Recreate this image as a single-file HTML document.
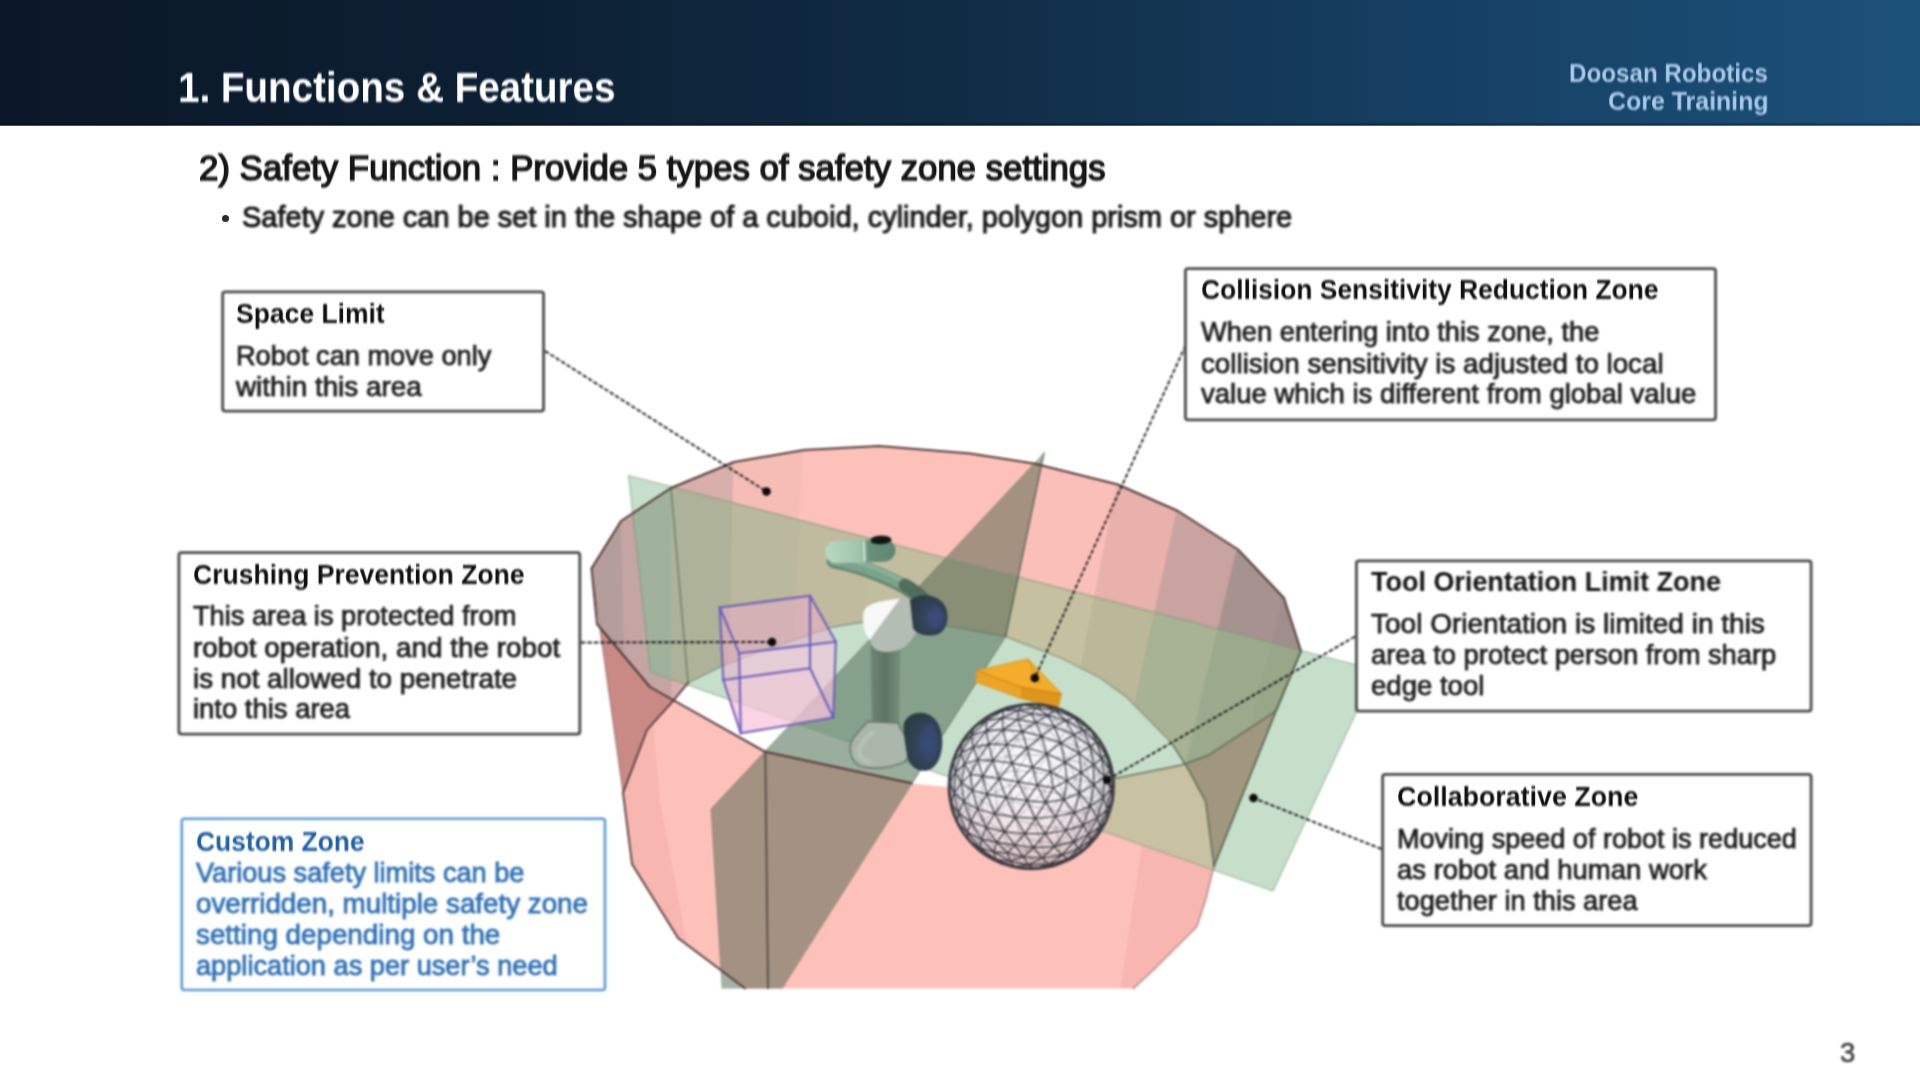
<!DOCTYPE html>
<html lang="en">
<head>
<meta charset="utf-8">
<title>Functions &amp; Features - Safety Function</title>
<style>
html,body{margin:0;padding:0;}
body{width:1920px;height:1080px;overflow:hidden;background:#ffffff;position:relative;
 font-family:"Liberation Sans", sans-serif;}
#hdr{position:absolute;left:0;top:0;width:1920px;height:125px;
 background:linear-gradient(90deg,#0b1828 0%,#0c1f32 25%,#102c45 50%,#164063 75%,#1c517a 100%);}
#hdredge{position:absolute;left:0;top:125px;width:1920px;height:1px;opacity:0.72;
 background:linear-gradient(90deg,#060f1b 0%,#08141f 25%,#0a1c2d 50%,#0f2c45 75%,#143a58 100%);}
#hdrshade{position:absolute;left:0;top:122px;width:1920px;height:3px;
 background:linear-gradient(180deg,rgba(0,0,0,0) 0%,rgba(0,0,0,0.35) 100%);}
.t{position:absolute;white-space:nowrap;transform-origin:0 50%;will-change:transform;filter:blur(0.8px);font-family:"Liberation Sans", sans-serif;}
.bx{position:absolute;background:#ffffff;border-radius:2px;}
#ill{position:absolute;left:0;top:0;width:1920px;height:1080px;filter:blur(0.8px);}
#bul{position:absolute;left:221.5px;top:214.5px;width:7px;height:7px;border-radius:50%;background:#2a2a2a;}
</style>
</head>
<body>
<div id="hdr"></div><div id="hdrshade"></div><div id="hdredge"></div>
<svg id="ill" width="1920" height="1080" viewBox="0 0 1920 1080">
<defs><clipPath id="cOpen"><polygon points="591.5,568.5 621.0,521.0 671.0,488.0 734.0,462.0 804.0,450.0 879.0,446.0 970.0,453.5 1035.0,463.8 1117.8,484.5 1178.0,511.0 1238.0,549.5 1284.0,598.0 1301.0,651.0 1276.0,711.0 1208.0,755.6 1181.5,765.0 1107.0,780.0 1000.0,792.0 911.6,783.2 765.3,751.8 650.0,687.0 597.0,624.0"/></clipPath><clipPath id="cBack"><polygon points="591.5,568.5 621.0,521.0 671.0,488.0 734.0,462.0 804.0,450.0 879.0,446.0 970.0,453.5 1035.0,463.8 1117.8,484.5 1178.0,511.0 1238.0,549.5 1284.0,598.0 1301.0,651.0 1214.0,866.4 1205.6,801.4 1188.7,770.0 1172.0,743.6 1126.0,696.6 1100.0,678.0 1061.0,658.0 1005.6,636.7 946.7,625.6 900.0,620.5 860.0,622.5 833.0,627.0 770.0,648.0 720.0,667.0 688.0,683.0 672.7,701.3 647.0,730.0 623.0,793.0"/></clipPath><clipPath id="cFront"><polygon points="591.5,568.5 597.0,624.0 650.0,687.0 765.3,751.8 911.6,783.2 1000.0,792.0 1107.0,780.0 1181.5,765.0 1208.0,755.6 1276.0,711.0 1214.0,866.4 1205.6,900.0 1196.8,926.8 1153.7,969.8 1133.6,988.5 745.0,988.5 722.0,971.0 678.0,938.0 632.0,864.0 623.0,793.0"/></clipPath><clipPath id="cP1"><polygon points="628.5,475.5 1376.0,670.0 1273.0,891.0 650.5,672.0"/></clipPath><clipPath id="cP2"><polygon points="1044.0,453.0 1005.6,636.7 782.5,988.5 722.0,988.5 711.0,809.0"/></clipPath></defs>
<polygon points="591.5,568.5 597.0,624.0 650.0,687.0 765.3,751.8 911.6,783.2 1000.0,792.0 1107.0,780.0 1181.5,765.0 1208.0,755.6 1276.0,711.0 1214.0,866.4 1205.6,900.0 1196.8,926.8 1153.7,969.8 1133.6,988.5 745.0,988.5 722.0,971.0 678.0,938.0 632.0,864.0 623.0,793.0" fill="#fec1ba" />
<g clip-path="url(#cFront)"><polygon points="597.0,624.0 650.0,687.0 660.0,800.0 690.0,960.0 640.0,990.0 600.0,800.0" fill="rgba(160,60,60,0.07)" /><polygon points="1150.0,790.0 1215.0,760.0 1215.0,990.0 1120.0,990.0" fill="rgba(160,60,60,0.07)" /></g>
<polygon points="591.5,568.5 621.0,521.0 671.0,488.0 734.0,462.0 804.0,450.0 879.0,446.0 970.0,453.5 1035.0,463.8 1117.8,484.5 1178.0,511.0 1238.0,549.5 1284.0,598.0 1301.0,651.0 1214.0,866.4 1205.6,801.4 1188.7,770.0 1172.0,743.6 1126.0,696.6 1100.0,678.0 1061.0,658.0 1005.6,636.7 946.7,625.6 900.0,620.5 860.0,622.5 833.0,627.0 770.0,648.0 720.0,667.0 688.0,683.0 672.7,701.3 647.0,730.0 623.0,793.0" fill="#c98a85" />
<polygon points="591.5,568.5 621.0,521.0 671.0,488.0 734.0,462.0 804.0,450.0 879.0,446.0 970.0,453.5 1035.0,463.8 1117.8,484.5 1178.0,511.0 1238.0,549.5 1284.0,598.0 1301.0,651.0 1276.0,711.0 1208.0,755.6 1181.5,765.0 1107.0,780.0 1000.0,792.0 911.6,783.2 765.3,751.8 650.0,687.0 597.0,624.0" fill="#ffffff" />
<g clip-path="url(#cOpen)"><polygon points="591.5,568.5 621.0,521.0 671.0,488.0 734.0,462.0 804.0,450.0 879.0,446.0 970.0,453.5 1035.0,463.8 1117.8,484.5 1178.0,511.0 1238.0,549.5 1284.0,598.0 1301.0,651.0 1214.0,866.4 1205.6,801.4 1188.7,770.0 1172.0,743.6 1126.0,696.6 1100.0,678.0 1061.0,658.0 1005.6,636.7 946.7,625.6 900.0,620.5 860.0,622.5 833.0,627.0 770.0,648.0 720.0,667.0 688.0,683.0 672.7,701.3 647.0,730.0 623.0,793.0" fill="#fec1ba" /></g>
<g clip-path="url(#cOpen)"><g clip-path="url(#cBack)"><polygon points="560.0,560.0 621.0,515.0 627.1,758.1 560.0,900.0" fill="#b59d9b" stroke="#b59d9b" stroke-width="0.6"/><polygon points="621.0,515.0 671.0,482.0 671.9,717.4 627.1,758.1" fill="#c4a5a3" stroke="#c4a5a3" stroke-width="0.6"/><polygon points="671.0,482.0 734.0,456.0 728.3,685.3 671.9,717.4" fill="#d9afab" stroke="#d9afab" stroke-width="0.6"/><polygon points="734.0,456.0 804.0,444.0 790.9,670.5 728.3,685.3" fill="#f6bdb7" stroke="#f6bdb7" stroke-width="0.6"/><polygon points="804.0,444.0 879.0,440.0 858.0,665.5 790.9,670.5" fill="#fec1ba" stroke="#fec1ba" stroke-width="0.6"/><polygon points="879.0,440.0 970.0,447.5 939.5,674.8 858.0,665.5" fill="#fec1ba" stroke="#fec1ba" stroke-width="0.6"/><polygon points="970.0,447.5 1035.0,457.8 997.7,687.5 939.5,674.8" fill="#fec1ba" stroke="#fec1ba" stroke-width="0.6"/><polygon points="1035.0,457.8 1117.8,478.5 1071.8,713.1 997.7,687.5" fill="#fbbfb9" stroke="#fbbfb9" stroke-width="0.6"/><polygon points="1117.8,478.5 1178.0,505.0 1125.6,745.8 1071.8,713.1" fill="#e8b1ac" stroke="#e8b1ac" stroke-width="0.6"/><polygon points="1178.0,505.0 1238.0,543.5 1179.3,793.3 1125.6,745.8" fill="#c9a39f" stroke="#c9a39f" stroke-width="0.6"/><polygon points="1238.0,543.5 1284.0,592.0 1220.5,853.2 1179.3,793.3" fill="#a6928f" stroke="#a6928f" stroke-width="0.6"/><polygon points="1284.0,592.0 1330.0,640.0 1330.0,900.0 1220.5,853.2" fill="#a08e8c" stroke="#a08e8c" stroke-width="0.6"/></g></g>
<polygon points="628.5,475.5 1376.0,670.0 1273.0,891.0 650.5,672.0" fill="#c6dfca" />
<g clip-path="url(#cFront)"><polygon points="628.5,475.5 1376.0,670.0 1273.0,891.0 650.5,672.0" fill="#c9c1a3" /></g>
<g clip-path="url(#cBack)"><polygon points="628.5,475.5 1376.0,670.0 1273.0,891.0 650.5,672.0" fill="#a0977e" /></g>
<g clip-path="url(#cOpen)"><polygon points="628.5,475.5 1376.0,670.0 1273.0,891.0 650.5,672.0" fill="#c6dfca" /><g clip-path="url(#cBack)"><polygon points="628.5,475.5 1376.0,670.0 1273.0,891.0 650.5,672.0" fill="#c2bd9f" /></g><g clip-path="url(#cBack)"><g clip-path="url(#cP1)"><polygon points="560.0,560.0 621.0,515.0 627.1,758.1 560.0,900.0" fill="#9dab97" stroke="#9dab97" stroke-width="0.6"/><polygon points="621.0,515.0 671.0,482.0 671.9,717.4 627.1,758.1" fill="#a0b29b" stroke="#a0b29b" stroke-width="0.6"/><polygon points="671.0,482.0 734.0,456.0 728.3,685.3 671.9,717.4" fill="#aeb298" stroke="#aeb298" stroke-width="0.6"/><polygon points="734.0,456.0 804.0,444.0 790.9,670.5 728.3,685.3" fill="#bab89d" stroke="#bab89d" stroke-width="0.6"/><polygon points="804.0,444.0 879.0,440.0 858.0,665.5 790.9,670.5" fill="#c0ba9e" stroke="#c0ba9e" stroke-width="0.6"/><polygon points="879.0,440.0 970.0,447.5 939.5,674.8 858.0,665.5" fill="#c2bd9f" stroke="#c2bd9f" stroke-width="0.6"/><polygon points="970.0,447.5 1035.0,457.8 997.7,687.5 939.5,674.8" fill="#c3bfa0" stroke="#c3bfa0" stroke-width="0.6"/><polygon points="1035.0,457.8 1117.8,478.5 1071.8,713.1 997.7,687.5" fill="#c4c0a0" stroke="#c4c0a0" stroke-width="0.6"/><polygon points="1117.8,478.5 1178.0,505.0 1125.6,745.8 1071.8,713.1" fill="#bab898" stroke="#bab898" stroke-width="0.6"/><polygon points="1178.0,505.0 1238.0,543.5 1179.3,793.3 1125.6,745.8" fill="#a8b294" stroke="#a8b294" stroke-width="0.6"/><polygon points="1238.0,543.5 1284.0,592.0 1220.5,853.2 1179.3,793.3" fill="#9baa8c" stroke="#9baa8c" stroke-width="0.6"/><polygon points="1284.0,592.0 1330.0,640.0 1330.0,900.0 1220.5,853.2" fill="#98a68a" stroke="#98a68a" stroke-width="0.6"/></g></g></g>
<polygon points="1044.0,453.0 1005.6,636.7 782.5,988.5 722.0,988.5 711.0,809.0" fill="#a3b2a3" />
<g clip-path="url(#cFront)"><polygon points="1044.0,453.0 1005.6,636.7 782.5,988.5 722.0,988.5 711.0,809.0" fill="#a39181" /></g>
<g clip-path="url(#cOpen)"><polygon points="1044.0,453.0 1005.6,636.7 782.5,988.5 722.0,988.5 711.0,809.0" fill="#9bad9c" /><g clip-path="url(#cP1)"><polygon points="1044.0,453.0 1005.6,636.7 782.5,988.5 722.0,988.5 711.0,809.0" fill="#86a18b" /></g><g clip-path="url(#cBack)"><polygon points="1044.0,453.0 1005.6,636.7 782.5,988.5 722.0,988.5 711.0,809.0" fill="#a49281" /><g clip-path="url(#cP1)"><polygon points="1044.0,453.0 1005.6,636.7 782.5,988.5 722.0,988.5 711.0,809.0" fill="#888f74" /></g></g></g>
<polyline points="628.5,475.5 1376.0,670.0 1273.0,891.0 650.5,672.0 628.5,475.5" fill="none" stroke="rgba(110,140,115,0.55)" stroke-width="1.2" stroke-linejoin="round" stroke-linecap="round" />
<polyline points="671.0,488.0 688.0,683.0" fill="none" stroke="rgba(80,100,80,0.7)" stroke-width="1.4" stroke-linejoin="round" stroke-linecap="round" />
<polyline points="1044.0,453.0 1005.6,636.7" fill="none" stroke="rgba(70,85,70,0.75)" stroke-width="1.5" stroke-linejoin="round" stroke-linecap="round" />
<polyline points="1044.0,453.0 711.0,809.0 722.0,988.5" fill="none" stroke="rgba(90,100,90,0.35)" stroke-width="1.0" stroke-linejoin="round" stroke-linecap="round" />
<polyline points="1005.6,636.7 911.6,783.2" fill="none" stroke="rgba(80,100,85,0.45)" stroke-width="1.0" stroke-linejoin="round" stroke-linecap="round" />
<polyline points="765.3,751.8 768.0,988.5" fill="none" stroke="rgba(60,55,50,0.85)" stroke-width="1.6" stroke-linejoin="round" stroke-linecap="round" />
<polyline points="688.0,683.0 720.0,667.0 770.0,648.0 833.0,627.0 860.0,622.5 900.0,620.5 946.7,625.6 1005.6,636.7 1061.0,658.0 1100.0,678.0 1126.0,696.6 1172.0,743.6" fill="none" stroke="rgba(90,110,90,0.55)" stroke-width="1.3" stroke-linejoin="round" stroke-linecap="round" />
<polyline points="623.0,793.0 647.0,730.0 672.7,701.3 688.0,683.0" fill="none" stroke="#503a38" stroke-width="1.8" stroke-linejoin="round" stroke-linecap="round" />
<polyline points="1172.0,743.6 1188.7,770.0 1205.6,801.4 1214.0,866.4" fill="none" stroke="rgba(85,95,75,0.8)" stroke-width="1.6" stroke-linejoin="round" stroke-linecap="round" />
<polyline points="591.5,568.5 621.0,521.0 671.0,488.0 734.0,462.0 804.0,450.0 879.0,446.0 970.0,453.5 1035.0,463.8 1117.8,484.5 1178.0,511.0 1238.0,549.5 1284.0,598.0 1301.0,651.0" fill="none" stroke="#503a38" stroke-width="2.0" stroke-linejoin="round" stroke-linecap="round" />
<polyline points="591.5,568.5 597.0,624.0 650.0,687.0 765.3,751.8 911.6,783.2" fill="none" stroke="#503a38" stroke-width="2.0" stroke-linejoin="round" stroke-linecap="round" />
<polyline points="1107.0,780.0 1181.5,765.0 1208.0,755.6 1276.0,711.0 1301.0,651.0" fill="none" stroke="rgba(85,100,80,0.85)" stroke-width="1.6" stroke-linejoin="round" stroke-linecap="round" />
<polyline points="591.5,568.5 623.0,793.0" fill="none" stroke="rgba(120,80,80,0.55)" stroke-width="1.2" stroke-linejoin="round" stroke-linecap="round" />
<polyline points="623.0,793.0 632.0,864.0 678.0,938.0 722.0,971.0 745.0,988.5" fill="none" stroke="#503a38" stroke-width="1.8" stroke-linejoin="round" stroke-linecap="round" />
<polyline points="1301.0,651.0 1276.0,711.0 1214.0,866.4" fill="none" stroke="rgba(75,90,70,0.85)" stroke-width="1.7" stroke-linejoin="round" stroke-linecap="round" />
<polyline points="1214.0,866.4 1205.6,900.0 1196.8,926.8 1153.7,969.8 1133.6,988.5" fill="none" stroke="rgba(130,80,80,0.6)" stroke-width="1.4" stroke-linejoin="round" stroke-linecap="round" />
<polygon points="719.7,607.5 810.0,595.8 835.8,641.7 833.3,717.5 740.8,733.3 723.3,680.0" fill="rgba(238,170,205,0.50)" />
<polygon points="739.2,653.3 835.8,641.7 833.3,717.5 740.8,733.3" fill="rgba(255,225,240,0.30)" />
<polygon points="723.3,680.0 810.0,668.3 833.3,717.5 740.8,733.3" fill="rgba(255,200,215,0.25)" />
<polyline points="719.7,607.5 810.0,595.8" fill="none" stroke="rgba(102,88,188,0.92)" stroke-width="2.1" stroke-linejoin="round" stroke-linecap="round" />
<polyline points="810.0,595.8 835.8,641.7" fill="none" stroke="rgba(102,88,188,0.92)" stroke-width="2.1" stroke-linejoin="round" stroke-linecap="round" />
<polyline points="835.8,641.7 739.2,653.3" fill="none" stroke="rgba(102,88,188,0.92)" stroke-width="2.1" stroke-linejoin="round" stroke-linecap="round" />
<polyline points="739.2,653.3 719.7,607.5" fill="none" stroke="rgba(102,88,188,0.92)" stroke-width="2.1" stroke-linejoin="round" stroke-linecap="round" />
<polyline points="723.3,680.0 810.0,668.3" fill="none" stroke="rgba(102,88,188,0.92)" stroke-width="2.1" stroke-linejoin="round" stroke-linecap="round" />
<polyline points="810.0,668.3 833.3,717.5" fill="none" stroke="rgba(102,88,188,0.92)" stroke-width="2.1" stroke-linejoin="round" stroke-linecap="round" />
<polyline points="833.3,717.5 740.8,733.3" fill="none" stroke="rgba(102,88,188,0.92)" stroke-width="2.1" stroke-linejoin="round" stroke-linecap="round" />
<polyline points="740.8,733.3 723.3,680.0" fill="none" stroke="rgba(102,88,188,0.92)" stroke-width="2.1" stroke-linejoin="round" stroke-linecap="round" />
<polyline points="719.7,607.5 723.3,680.0" fill="none" stroke="rgba(102,88,188,0.92)" stroke-width="2.1" stroke-linejoin="round" stroke-linecap="round" />
<polyline points="810.0,595.8 810.0,668.3" fill="none" stroke="rgba(102,88,188,0.92)" stroke-width="2.1" stroke-linejoin="round" stroke-linecap="round" />
<polyline points="835.8,641.7 833.3,717.5" fill="none" stroke="rgba(102,88,188,0.92)" stroke-width="2.1" stroke-linejoin="round" stroke-linecap="round" />
<polyline points="739.2,653.3 740.8,733.3" fill="none" stroke="rgba(102,88,188,0.92)" stroke-width="2.1" stroke-linejoin="round" stroke-linecap="round" />
<defs>
<linearGradient id="gLink" x1="0" x2="1" y1="0" y2="0"><stop offset="0" stop-color="#6e8573"/><stop offset="0.5" stop-color="#5f7564"/><stop offset="1" stop-color="#75907c"/></linearGradient>
<linearGradient id="gTop" x1="0" x2="1" y1="0" y2="0"><stop offset="0" stop-color="#b9d8c2"/><stop offset="0.5" stop-color="#9fc4ab"/><stop offset="0.62" stop-color="#6a9079"/><stop offset="1" stop-color="#5c8770"/></linearGradient>
<radialGradient id="gCap" cx="0.62" cy="0.55" r="0.62"><stop offset="0" stop-color="#3a4b74"/><stop offset="0.45" stop-color="#33445c"/><stop offset="1" stop-color="#2a3c42"/></radialGradient>
</defs>
<path d="M834,561 C850,564 866,569 880,575 C898,582 912,590 926,602" fill="none" stroke="#5f8570" stroke-width="14.5" stroke-linecap="round"/>
<path d="M834,560 C850,563 866,568 880,574 C898,581 912,589 926,601" fill="none" stroke="#7ba28a" stroke-width="11.5" stroke-linecap="round"/>
<path d="M838,557.5 C852,560 868,565 882,571 C894,576 903,581 910,586" fill="none" stroke="#93b9a0" stroke-width="4" stroke-linecap="round" opacity="0.7"/>
<path d="M905,585 C914,590 920,595 927,602" fill="none" stroke="#41594c" stroke-width="13" stroke-linecap="round" opacity="0.75"/>
<g transform="rotate(-2 860 551)">
<ellipse cx="881" cy="541" rx="11" ry="4.8" fill="#16201b"/>
<rect x="825" y="540" width="70.5" height="22.5" rx="11.2" ry="11.2" fill="url(#gTop)"/>
<ellipse cx="881" cy="541.6" rx="10" ry="3.4" fill="#101814"/>
<rect x="863" y="541" width="2.4" height="21" fill="#d6e9dc" opacity="0.85"/>
</g>
<path d="M870.5,640 L900.5,640 L899,732 L872,732 Z" fill="url(#gLink)"/>
<path d="M868,721.5 C862,728 854,735 851.3,742 C849,749 850.5,757 854,761.3 C858,766 864,768 872,768.2 C884,768.5 896,766 904,762.2 C908,759 909.5,754 908.7,748 C908,740 904,733 900.4,728.9 L898.5,723 Z" fill="#a9b6a9" stroke="#61756a" stroke-width="1.4"/>
<path d="M872,733 C866,738 860,744 859,751 C859,757 863,761 870,762" fill="none" stroke="#bcc8bc" stroke-width="5" stroke-linecap="round" opacity="0.6"/>
<path d="M903.5,728 C903,719 911,712.5 921,712.8 C933,713 942,724 942.3,741 C942.5,757 936,770 925,770.8 C915,771.3 908.5,764 907,755 C905.5,746 904,737 903.5,728 Z" fill="url(#gCap)"/>
<ellipse cx="929" cy="742" rx="8.5" ry="19" fill="#3a4b7c" opacity="0.45"/>
<path d="M864,612 C866,603 880,600 900,598 C911,597 917,601 919,612 C920,624 917,634 911,640 C906,648 898,652 886,652 C876,652 871,647 870,640 C864,634 862,624 864,612 Z" fill="#b3bdb3"/>
<path d="M863.5,613 C865,604 878,601 900,598.5 C895,606 880,625 870,640 C864,634 862,624 863.5,613 Z" fill="#f8f8f6"/>
<path d="M910,600 C920,592 940,594 946,608 C950,620 946,632 936,635 C926,637 916,634 913,628 Z" fill="url(#gCap)"/>
<ellipse cx="936" cy="618" rx="8" ry="11" fill="#3c4d80" opacity="0.6"/>
<polygon points="977.0,670.5 1028.0,659.0 1061.5,693.7 1058.0,708.0 1021.0,698.5 976.0,682.0" fill="#e9a023" />
<polygon points="977.0,670.5 1028.0,659.0 1061.5,693.7 1021.0,687.0" fill="#f3ad2b" />
<polygon points="977.0,670.5 1021.0,687.0 1021.0,698.5 976.0,682.0" fill="#eaa526" />
<polygon points="1021.0,687.0 1061.5,693.7 1058.0,708.0 1021.0,698.5" fill="#dd951c" />
<polyline points="977.0,670.5 1021.0,687.0 1061.5,693.7" fill="none" stroke="#c98514" stroke-width="1.0" stroke-linejoin="round" stroke-linecap="round" />
<polyline points="1028.0,659.0 1040.0,684.0" fill="none" stroke="#c98514" stroke-width="0.9" stroke-linejoin="round" stroke-linecap="round" />
<polyline points="977.0,670.5 1028.0,659.0 1061.5,693.7 1058.0,708.0 1021.0,698.5 976.0,682.0 977.0,670.5" fill="none" stroke="#d99a25" stroke-width="1.0" stroke-linejoin="round" stroke-linecap="round" />
<defs>
<radialGradient id="gSph" cx="0.47" cy="0.42" r="0.60"><stop offset="0" stop-color="#fbfbfd"/><stop offset="0.6" stop-color="#ececf1"/><stop offset="0.86" stop-color="#cfcfd6"/><stop offset="1" stop-color="#a2a3aa"/></radialGradient>
<linearGradient id="gSphPink" x1="0" x2="0" y1="0" y2="1"><stop offset="0.5" stop-color="#f5c0bc" stop-opacity="0"/><stop offset="1" stop-color="#f5c0bc" stop-opacity="0.5"/></linearGradient>
</defs>
<circle cx="1031.3" cy="786.5" r="83.0" fill="url(#gSph)"/>
<circle cx="1031.3" cy="786.5" r="83.0" fill="url(#gSphPink)"/>
<path d="M978.9,722.9L989.7,714.8M978.9,722.9L973.8,727.1M971.9,732.6L978.9,722.9M965.5,736.3L971.9,732.6M965.5,736.3L978.9,722.9M1039.3,716.2L1055.2,720.2M1039.3,716.2L1052.4,712.0M1055.2,720.2L1052.4,712.0M1052.4,712.0L1034.3,708.1M1034.3,708.1L1048.1,706.1M1052.4,712.0L1048.1,706.1M1048.1,706.1L1028.4,703.9M1048.1,706.1L1042.5,704.6M1020.3,715.0L1039.3,716.2M1020.3,715.0L1034.3,708.1M1034.3,708.1L1039.3,716.2M1034.3,708.1L1013.6,708.6M1013.6,708.6L1028.4,703.9M1028.4,703.9L1034.3,708.1M1028.4,703.9L1007.7,706.9M1000.9,717.8L1020.3,715.0M1000.9,717.8L1013.6,708.6M1013.6,708.6L1020.3,715.0M1013.6,708.6L994.1,714.1M994.1,714.1L1007.7,706.9M1007.7,706.9L1013.6,708.6M984.2,724.4L1000.9,717.8M984.2,724.4L994.1,714.1M994.1,714.1L1000.9,717.8M994.1,714.1L978.9,722.9M989.7,714.8L994.1,714.1M971.9,732.6L984.2,724.4M978.9,722.9L984.2,724.4M998.9,773.4L1009.4,785.1M998.9,773.4L1017.2,770.6M1009.4,785.1L1017.2,770.6M1017.2,770.6L1006.9,756.5M1006.9,756.5L1027.1,754.6M1017.2,770.6L1027.1,754.6M1027.1,754.6L1017.5,739.4M1017.5,739.4L1037.8,739.4M1027.1,754.6L1037.8,739.4M1037.8,739.4L1029.0,725.3M1029.0,725.3L1047.6,727.8M1037.8,739.4L1047.6,727.8M1047.6,727.8L1039.3,716.2M1047.6,727.8L1055.2,720.2M988.2,760.3L998.9,773.4M988.2,760.3L1006.9,756.5M1006.9,756.5L998.9,773.4M1006.9,756.5L996.8,742.5M996.8,742.5L1017.5,739.4M1017.5,739.4L1006.9,756.5M1017.5,739.4L1008.2,726.4M1008.2,726.4L1029.0,725.3M1029.0,725.3L1017.5,739.4M1029.0,725.3L1020.3,715.0M1039.3,716.2L1029.0,725.3M979.5,748.1L988.2,760.3M979.5,748.1L996.8,742.5M996.8,742.5L988.2,760.3M996.8,742.5L988.9,731.3M988.9,731.3L1008.2,726.4M1008.2,726.4L996.8,742.5M1008.2,726.4L1000.9,717.8M1020.3,715.0L1008.2,726.4M974.1,738.7L979.5,748.1M974.1,738.7L988.9,731.3M988.9,731.3L979.5,748.1M988.9,731.3L984.2,724.4M1000.9,717.8L988.9,731.3M971.9,732.6L974.1,738.7M984.2,724.4L974.1,738.7M952.7,802.9L957.1,818.6M952.7,802.9L961.0,814.5M957.1,818.6L961.0,814.5M961.0,814.5L958.1,796.3M958.1,796.3L969.1,808.3M961.0,814.5L969.1,808.3M969.1,808.3L968.7,788.3M968.7,788.3L981.3,800.5M969.1,808.3L981.3,800.5M981.3,800.5L983.3,780.2M983.3,780.2L995.6,792.3M981.3,800.5L995.6,792.3M995.6,792.3L998.9,773.4M995.6,792.3L1009.4,785.1M951.6,783.8L952.7,802.9M951.6,783.8L958.1,796.3M958.1,796.3L952.7,802.9M958.1,796.3L959.3,775.3M959.3,775.3L968.7,788.3M968.7,788.3L958.1,796.3M968.7,788.3L972.3,766.9M972.3,766.9L983.3,780.2M983.3,780.2L968.7,788.3M983.3,780.2L988.2,760.3M998.9,773.4L983.3,780.2M955.1,763.7L951.6,783.8M955.1,763.7L959.3,775.3M959.3,775.3L951.6,783.8M959.3,775.3L965.2,755.0M965.2,755.0L972.3,766.9M972.3,766.9L959.3,775.3M972.3,766.9L979.5,748.1M988.2,760.3L972.3,766.9M962.5,746.0L955.1,763.7M962.5,746.0L965.2,755.0M965.2,755.0L955.1,763.7M965.2,755.0L974.1,738.7M979.5,748.1L965.2,755.0M971.9,732.6L962.5,746.0M974.1,738.7L962.5,746.0M948.8,793.8L952.5,812.1M952.5,812.1L952.7,802.9M952.5,812.1L957.1,818.6M949.7,772.6L948.8,793.8M948.8,793.8L951.6,783.8M952.7,802.9L948.8,793.8M955.9,752.4L949.7,772.6M949.7,772.6L955.1,763.7M951.6,783.8L949.7,772.6M965.5,736.3L955.9,752.4M955.9,752.4L962.5,746.0M955.1,763.7L955.9,752.4M962.5,746.0L965.5,736.3M1094.4,733.1L1102.0,743.6M1082.7,725.1L1094.4,733.1M1082.7,725.1L1080.1,719.4M1080.1,719.4L1094.4,733.1M1080.1,719.4L1066.5,713.4M1066.5,713.4L1061.7,709.3M1061.7,709.3L1048.1,706.1M1068.8,721.0L1082.7,725.1M1068.8,721.0L1066.5,713.4M1066.5,713.4L1082.7,725.1M1066.5,713.4L1052.4,712.0M1048.1,706.1L1066.5,713.4M1055.2,720.2L1068.8,721.0M1052.4,712.0L1068.8,721.0M960.6,829.4L952.5,812.1M960.6,829.4L957.1,818.6M1014.9,857.8L1031.3,859.3M1014.9,857.8L1026.5,850.4M1031.3,859.3L1026.5,850.4M1026.5,850.4L1008.2,846.5M1008.2,846.5L1021.1,836.8M1026.5,850.4L1021.1,836.8M1021.1,836.8L1001.9,830.0M1001.9,830.0L1015.9,819.5M1021.1,836.8L1015.9,819.5M1015.9,819.5L997.6,810.7M997.6,810.7L1012.0,801.3M1015.9,819.5L1012.0,801.3M1012.0,801.3L995.6,792.3M1012.0,801.3L1009.4,785.1M996.7,852.5L1014.9,857.8M996.7,852.5L1008.2,846.5M1008.2,846.5L1014.9,857.8M1008.2,846.5L988.9,838.3M988.9,838.3L1001.9,830.0M1001.9,830.0L1008.2,846.5M1001.9,830.0L983.4,819.9M983.4,819.9L997.6,810.7M997.6,810.7L1001.9,830.0M997.6,810.7L981.3,800.5M995.6,792.3L997.6,810.7M979.3,842.9L996.7,852.5M979.3,842.9L988.9,838.3M988.9,838.3L996.7,852.5M988.9,838.3L972.4,826.8M972.4,826.8L983.4,819.9M983.4,819.9L988.9,838.3M983.4,819.9L969.1,808.3M981.3,800.5L983.4,819.9M965.8,830.8L979.3,842.9M965.8,830.8L972.4,826.8M972.4,826.8L979.3,842.9M972.4,826.8L961.0,814.5M969.1,808.3L972.4,826.8M957.1,818.6L965.8,830.8M961.0,814.5L965.8,830.8M1080.0,796.8L1092.0,798.6M1080.0,796.8L1090.1,782.5M1092.0,798.6L1090.1,782.5M1090.1,782.5L1075.6,778.9M1075.6,778.9L1084.9,764.0M1090.1,782.5L1084.9,764.0M1084.9,764.0L1067.9,759.2M1067.9,759.2L1076.4,745.7M1084.9,764.0L1076.4,745.7M1076.4,745.7L1057.9,741.2M1057.9,741.2L1065.8,730.7M1076.4,745.7L1065.8,730.7M1065.8,730.7L1047.6,727.8M1065.8,730.7L1055.2,720.2M1063.5,794.3L1080.0,796.8M1063.5,794.3L1075.6,778.9M1075.6,778.9L1080.0,796.8M1075.6,778.9L1056.5,775.3M1056.5,775.3L1067.9,759.2M1067.9,759.2L1075.6,778.9M1067.9,759.2L1047.4,755.8M1047.4,755.8L1057.9,741.2M1057.9,741.2L1067.9,759.2M1057.9,741.2L1037.8,739.4M1047.6,727.8L1057.9,741.2M1044.3,791.1L1063.5,794.3M1044.3,791.1L1056.5,775.3M1056.5,775.3L1063.5,794.3M1056.5,775.3L1035.8,772.4M1035.8,772.4L1047.4,755.8M1047.4,755.8L1056.5,775.3M1047.4,755.8L1027.1,754.6M1037.8,739.4L1047.4,755.8M1025.3,787.9L1044.3,791.1M1025.3,787.9L1035.8,772.4M1035.8,772.4L1044.3,791.1M1035.8,772.4L1017.2,770.6M1027.1,754.6L1035.8,772.4M1009.4,785.1L1025.3,787.9M1017.2,770.6L1025.3,787.9M1044.4,862.6L1031.3,859.3M1044.4,862.6L1026.0,865.3M1031.3,859.3L1026.0,865.3M1026.0,865.3L1039.8,868.0M1039.8,868.0L1020.1,868.4M1026.0,865.3L1020.1,868.4M1020.1,868.4L1034.2,869.1M1059.0,862.6L1044.4,862.6M1059.0,862.6L1039.8,868.0M1039.8,868.0L1044.4,862.6M1039.8,868.0L1054.9,866.1M1034.2,869.1L1039.8,868.0M1072.9,858.2L1059.0,862.6M1072.9,858.2L1054.9,866.1M1054.9,866.1L1059.0,862.6M1097.9,809.0L1092.0,798.6M1097.9,809.0L1084.8,813.2M1092.0,798.6L1084.8,813.2M1084.8,813.2L1089.4,825.7M1089.4,825.7L1073.8,828.9M1084.8,813.2L1073.8,828.9M1073.8,828.9L1076.3,842.2M1076.3,842.2L1059.6,843.1M1073.8,828.9L1059.6,843.1M1059.6,843.1L1060.2,855.0M1060.2,855.0L1044.7,853.4M1059.6,843.1L1044.7,853.4M1044.7,853.4L1044.4,862.6M1044.7,853.4L1031.3,859.3M1101.5,820.1L1097.9,809.0M1101.5,820.1L1089.4,825.7M1089.4,825.7L1097.9,809.0M1089.4,825.7L1091.1,837.4M1091.1,837.4L1076.3,842.2M1076.3,842.2L1089.4,825.7M1076.3,842.2L1076.0,852.6M1076.0,852.6L1060.2,855.0M1060.2,855.0L1076.3,842.2M1060.2,855.0L1059.0,862.6M1044.4,862.6L1060.2,855.0M1101.2,829.9L1101.5,820.1M1101.2,829.9L1091.1,837.4M1091.1,837.4L1101.5,820.1M1091.1,837.4L1088.8,845.9M1088.8,845.9L1076.0,852.6M1076.0,852.6L1091.1,837.4M1076.0,852.6L1072.9,858.2M1059.0,862.6L1076.0,852.6M1097.1,836.7L1101.2,829.9M1097.1,836.7L1088.8,845.9M1088.8,845.9L1101.2,829.9M1072.9,858.2L1088.8,845.9M1113.8,779.2L1111.6,769.7M1110.1,760.9L1111.6,769.7M1111.6,769.7L1113.2,790.0M1113.2,790.0L1108.4,780.0M1111.6,769.7L1108.4,780.0M1108.4,780.0L1107.3,800.5M1107.3,800.5L1101.2,790.1M1108.4,780.0L1101.2,790.1M1101.2,790.1L1097.9,809.0M1101.2,790.1L1092.0,798.6M1112.9,800.4L1113.2,790.0M1113.2,790.0L1113.8,779.2M1113.2,790.0L1109.5,811.3M1109.5,811.3L1107.3,800.5M1107.3,800.5L1113.2,790.0M1107.3,800.5L1101.5,820.1M1097.9,809.0L1107.3,800.5M1106.7,820.6L1109.5,811.3M1109.5,811.3L1112.9,800.4M1109.5,811.3L1101.2,829.9M1101.5,820.1L1109.5,811.3M1101.2,829.9L1106.7,820.6M965.8,830.8L960.6,829.4M960.6,829.4L971.9,843.1M971.9,843.1L968.2,839.9M979.3,842.9L971.9,843.1M971.9,843.1L965.8,830.8M971.9,843.1L988.4,855.2M988.4,855.2L982.5,853.6M982.5,853.6L971.9,843.1M982.5,853.6L1000.9,863.7M996.7,852.5L988.4,855.2M988.4,855.2L979.3,842.9M988.4,855.2L1007.7,862.8M1007.7,862.8L1000.9,863.7M1000.9,863.7L988.4,855.2M1000.9,863.7L1020.1,868.4M1014.9,857.8L1007.7,862.8M1007.7,862.8L996.7,852.5M1007.7,862.8L1026.0,865.3M1020.1,868.4L1007.7,862.8M1026.0,865.3L1014.9,857.8M1025.3,787.9L1012.0,801.3M1012.0,801.3L1030.1,805.9M1030.1,805.9L1015.9,819.5M1015.9,819.5L1035.5,825.0M1035.5,825.0L1021.1,836.8M1021.1,836.8L1040.6,841.7M1040.6,841.7L1026.5,850.4M1026.5,850.4L1044.7,853.4M1044.3,791.1L1030.1,805.9M1030.1,805.9L1025.3,787.9M1030.1,805.9L1050.6,809.9M1050.6,809.9L1035.5,825.0M1035.5,825.0L1030.1,805.9M1035.5,825.0L1056.0,828.4M1056.0,828.4L1040.6,841.7M1040.6,841.7L1035.5,825.0M1040.6,841.7L1059.6,843.1M1044.7,853.4L1040.6,841.7M1063.5,794.3L1050.6,809.9M1050.6,809.9L1044.3,791.1M1050.6,809.9L1069.8,812.4M1069.8,812.4L1056.0,828.4M1056.0,828.4L1050.6,809.9M1056.0,828.4L1073.8,828.9M1059.6,843.1L1056.0,828.4M1080.0,796.8L1069.8,812.4M1069.8,812.4L1063.5,794.3M1069.8,812.4L1084.8,813.2M1073.8,828.9L1069.8,812.4M1084.8,813.2L1080.0,796.8M1068.8,721.0L1065.8,730.7M1065.8,730.7L1081.1,733.8M1081.1,733.8L1076.4,745.7M1076.4,745.7L1091.9,751.6M1091.9,751.6L1084.9,764.0M1084.9,764.0L1098.7,771.5M1098.7,771.5L1090.1,782.5M1090.1,782.5L1101.2,790.1M1082.7,725.1L1081.1,733.8M1081.1,733.8L1068.8,721.0M1081.1,733.8L1095.2,740.6M1095.2,740.6L1091.9,751.6M1091.9,751.6L1081.1,733.8M1091.9,751.6L1104.4,760.1M1104.4,760.1L1098.7,771.5M1098.7,771.5L1091.9,751.6M1098.7,771.5L1108.4,780.0M1101.2,790.1L1098.7,771.5M1094.4,733.1L1095.2,740.6M1095.2,740.6L1082.7,725.1M1095.2,740.6L1105.3,750.3M1105.3,750.3L1104.4,760.1M1104.4,760.1L1095.2,740.6M1104.4,760.1L1111.6,769.7M1108.4,780.0L1104.4,760.1M1102.0,743.6L1105.3,750.3M1105.3,750.3L1094.4,733.1M1105.3,750.3L1110.1,760.9M1111.6,769.7L1105.3,750.3" fill="none" stroke="#4a4a54" stroke-width="0.9" opacity="0.42"/>
<path d="M1018.2,710.4L1031.3,713.7M1018.2,710.4L1017.9,719.6M1031.3,713.7L1017.9,719.6M1017.9,719.6L1002.4,718.0M1002.4,718.0L1003.0,729.9M1017.9,719.6L1003.0,729.9M1003.0,729.9L986.3,730.8M986.3,730.8L988.8,744.1M1003.0,729.9L988.8,744.1M988.8,744.1L973.2,747.3M973.2,747.3L977.8,759.8M988.8,744.1L977.8,759.8M977.8,759.8L964.7,764.0M970.6,774.4L964.7,764.0M977.8,759.8L970.6,774.4M1003.6,710.4L1018.2,710.4M1003.6,710.4L1002.4,718.0M1002.4,718.0L1018.2,710.4M1002.4,718.0L986.6,720.4M986.6,720.4L986.3,730.8M986.3,730.8L1002.4,718.0M986.3,730.8L971.5,735.6M971.5,735.6L973.2,747.3M973.2,747.3L986.3,730.8M973.2,747.3L961.1,752.9M964.7,764.0L961.1,752.9M964.7,764.0L973.2,747.3M989.7,714.8L1003.6,710.4M989.7,714.8L986.6,720.4M986.6,720.4L1003.6,710.4M986.6,720.4L973.8,727.1M973.8,727.1L971.5,735.6M971.5,735.6L986.6,720.4M971.5,735.6L961.4,743.1M961.1,752.9L961.4,743.1M961.1,752.9L971.5,735.6M973.8,727.1L989.7,714.8M973.8,727.1L965.5,736.3M961.4,743.1L965.5,736.3M961.4,743.1L973.8,727.1M1028.4,703.9L1042.5,704.6M1042.5,704.6L1022.8,705.0M1022.8,705.0L1036.6,707.7M1042.5,704.6L1036.6,707.7M1036.6,707.7L1018.2,710.4M1036.6,707.7L1031.3,713.7M1007.7,706.9L1022.8,705.0M1022.8,705.0L1028.4,703.9M1022.8,705.0L1003.6,710.4M1018.2,710.4L1022.8,705.0M1007.7,706.9L989.7,714.8M1003.6,710.4L1007.7,706.9M964.7,764.0L961.4,782.9M970.6,774.4L961.4,782.9M961.4,782.9L955.3,772.5M955.3,772.5L954.2,793.0M961.4,782.9L954.2,793.0M954.2,793.0L949.4,783.0M949.4,783.0L951.0,803.3M954.2,793.0L951.0,803.3M951.0,803.3L948.8,793.8M951.0,803.3L952.5,812.1M961.1,752.9L955.3,772.5M955.3,772.5L964.7,764.0M955.3,772.5L953.1,761.7M953.1,761.7L949.4,783.0M949.4,783.0L955.3,772.5M949.4,783.0L949.7,772.6M948.8,793.8L949.4,783.0M961.4,743.1L953.1,761.7M953.1,761.7L961.1,752.9M953.1,761.7L955.9,752.4M949.7,772.6L953.1,761.7M955.9,752.4L961.4,743.1M1102.0,743.6L1105.5,754.4M1102.0,743.6L1096.8,742.2M1105.5,754.4L1096.8,742.2M1096.8,742.2L1090.7,729.9M1090.7,729.9L1083.3,730.1M1096.8,742.2L1083.3,730.1M1083.3,730.1L1074.2,717.8M1074.2,717.8L1065.9,720.5M1083.3,730.1L1065.9,720.5M1065.9,720.5L1054.9,710.2M1054.9,710.2L1047.7,715.2M1065.9,720.5L1047.7,715.2M1047.7,715.2L1036.6,707.7M1047.7,715.2L1031.3,713.7M1094.4,733.1L1090.7,729.9M1090.7,729.9L1102.0,743.6M1090.7,729.9L1080.1,719.4M1080.1,719.4L1074.2,717.8M1074.2,717.8L1090.7,729.9M1074.2,717.8L1061.7,709.3M1061.7,709.3L1054.9,710.2M1054.9,710.2L1074.2,717.8M1054.9,710.2L1042.5,704.6M1036.6,707.7L1054.9,710.2M1061.7,709.3L1080.1,719.4M1042.5,704.6L1061.7,709.3M1050.6,771.7L1053.2,787.9M1050.6,771.7L1037.3,785.1M1053.2,787.9L1037.3,785.1M1037.3,785.1L1032.5,767.1M1032.5,767.1L1018.3,781.9M1037.3,785.1L1018.3,781.9M1018.3,781.9L1012.0,763.1M1012.0,763.1L999.1,778.7M1018.3,781.9L999.1,778.7M999.1,778.7L992.8,760.6M992.8,760.6L982.6,776.2M999.1,778.7L982.6,776.2M982.6,776.2L977.8,759.8M982.6,776.2L970.6,774.4M1046.7,753.5L1050.6,771.7M1046.7,753.5L1032.5,767.1M1032.5,767.1L1050.6,771.7M1032.5,767.1L1027.1,748.0M1027.1,748.0L1012.0,763.1M1012.0,763.1L1032.5,767.1M1012.0,763.1L1006.6,744.6M1006.6,744.6L992.8,760.6M992.8,760.6L1012.0,763.1M992.8,760.6L988.8,744.1M977.8,759.8L992.8,760.6M1041.5,736.2L1046.7,753.5M1041.5,736.2L1027.1,748.0M1027.1,748.0L1046.7,753.5M1027.1,748.0L1022.0,731.3M1022.0,731.3L1006.6,744.6M1006.6,744.6L1027.1,748.0M1006.6,744.6L1003.0,729.9M988.8,744.1L1006.6,744.6M1036.1,722.6L1041.5,736.2M1036.1,722.6L1022.0,731.3M1022.0,731.3L1041.5,736.2M1022.0,731.3L1017.9,719.6M1003.0,729.9L1022.0,731.3M1031.3,713.7L1036.1,722.6M1017.9,719.6L1036.1,722.6M996.8,842.3L1007.4,852.8M996.8,842.3L993.8,852.0M1007.4,852.8L993.8,852.0M993.8,852.0L981.5,839.2M981.5,839.2L979.9,847.9M993.8,852.0L979.9,847.9M979.9,847.9L967.4,832.4M967.4,832.4L968.2,839.9M979.9,847.9L968.2,839.9M968.2,839.9L957.3,822.7M957.3,822.7L960.6,829.4M968.2,839.9L960.6,829.4M986.2,827.3L996.8,842.3M986.2,827.3L981.5,839.2M981.5,839.2L996.8,842.3M981.5,839.2L970.7,821.4M970.7,821.4L967.4,832.4M967.4,832.4L981.5,839.2M967.4,832.4L958.2,812.9M958.2,812.9L957.3,822.7M957.3,822.7L967.4,832.4M957.3,822.7L951.0,803.3M952.5,812.1L957.3,822.7M977.7,809.0L986.2,827.3M977.7,809.0L970.7,821.4M970.7,821.4L986.2,827.3M970.7,821.4L963.9,801.5M963.9,801.5L958.2,812.9M958.2,812.9L970.7,821.4M958.2,812.9L954.2,793.0M951.0,803.3L958.2,812.9M972.5,790.5L977.7,809.0M972.5,790.5L963.9,801.5M963.9,801.5L977.7,809.0M963.9,801.5L961.4,782.9M954.2,793.0L963.9,801.5M970.6,774.4L972.5,790.5M961.4,782.9L972.5,790.5M1063.7,799.6L1053.2,787.9M1063.7,799.6L1067.0,780.7M1053.2,787.9L1067.0,780.7M1067.0,780.7L1079.3,792.8M1079.3,792.8L1081.3,772.5M1067.0,780.7L1081.3,772.5M1081.3,772.5L1093.9,784.7M1093.9,784.7L1093.5,764.7M1081.3,772.5L1093.5,764.7M1093.5,764.7L1104.5,776.7M1104.5,776.7L1101.6,758.5M1093.5,764.7L1101.6,758.5M1101.6,758.5L1109.9,770.1M1105.5,754.4L1109.9,770.1M1101.6,758.5L1105.5,754.4M1074.4,812.7L1063.7,799.6M1074.4,812.7L1079.3,792.8M1079.3,792.8L1063.7,799.6M1079.3,792.8L1090.3,806.1M1090.3,806.1L1093.9,784.7M1093.9,784.7L1079.3,792.8M1093.9,784.7L1103.3,797.7M1103.3,797.7L1104.5,776.7M1104.5,776.7L1093.9,784.7M1104.5,776.7L1111.0,789.2M1109.9,770.1L1111.0,789.2M1109.9,770.1L1104.5,776.7M1083.1,824.9L1074.4,812.7M1083.1,824.9L1090.3,806.1M1090.3,806.1L1074.4,812.7M1090.3,806.1L1097.4,818.0M1097.4,818.0L1103.3,797.7M1103.3,797.7L1090.3,806.1M1103.3,797.7L1107.5,809.3M1111.0,789.2L1107.5,809.3M1111.0,789.2L1103.3,797.7M1088.5,834.3L1083.1,824.9M1088.5,834.3L1097.4,818.0M1097.4,818.0L1083.1,824.9M1097.4,818.0L1100.1,827.0M1107.5,809.3L1100.1,827.0M1107.5,809.3L1097.4,818.0M1090.7,840.4L1088.5,834.3M1100.1,827.0L1090.7,840.4M1100.1,827.0L1088.5,834.3M1023.3,856.8L1007.4,852.8M1023.3,856.8L1015.0,845.2M1007.4,852.8L1015.0,845.2M1015.0,845.2L1033.6,847.7M1033.6,847.7L1024.8,833.6M1015.0,845.2L1024.8,833.6M1024.8,833.6L1045.1,833.6M1045.1,833.6L1035.5,818.4M1024.8,833.6L1035.5,818.4M1035.5,818.4L1055.7,816.5M1055.7,816.5L1045.4,802.4M1035.5,818.4L1045.4,802.4M1045.4,802.4L1063.7,799.6M1045.4,802.4L1053.2,787.9M1042.3,858.0L1023.3,856.8M1042.3,858.0L1033.6,847.7M1033.6,847.7L1023.3,856.8M1033.6,847.7L1054.4,846.6M1054.4,846.6L1045.1,833.6M1045.1,833.6L1033.6,847.7M1045.1,833.6L1065.8,830.5M1065.8,830.5L1055.7,816.5M1055.7,816.5L1045.1,833.6M1055.7,816.5L1074.4,812.7M1063.7,799.6L1055.7,816.5M1061.7,855.2L1042.3,858.0M1061.7,855.2L1054.4,846.6M1054.4,846.6L1042.3,858.0M1054.4,846.6L1073.7,841.7M1073.7,841.7L1065.8,830.5M1065.8,830.5L1054.4,846.6M1065.8,830.5L1083.1,824.9M1074.4,812.7L1065.8,830.5M1078.4,848.6L1061.7,855.2M1078.4,848.6L1073.7,841.7M1073.7,841.7L1061.7,855.2M1073.7,841.7L1088.5,834.3M1083.1,824.9L1073.7,841.7M1090.7,840.4L1078.4,848.6M1088.5,834.3L1078.4,848.6M1034.2,869.1L1014.5,866.9M1020.1,868.4L1014.5,866.9M1014.5,866.9L1028.3,864.9M1028.3,864.9L1010.2,861.0M1014.5,866.9L1010.2,861.0M1010.2,861.0L1023.3,856.8M1010.2,861.0L1007.4,852.8M1054.9,866.1L1034.2,869.1M1034.2,869.1L1049.0,864.4M1049.0,864.4L1028.3,864.9M1028.3,864.9L1034.2,869.1M1028.3,864.9L1042.3,858.0M1023.3,856.8L1028.3,864.9M1054.9,866.1L1068.5,858.9M1068.5,858.9L1049.0,864.4M1049.0,864.4L1054.9,866.1M1049.0,864.4L1061.7,855.2M1042.3,858.0L1049.0,864.4M1083.7,850.1L1072.9,858.2M1083.7,850.1L1068.5,858.9M1068.5,858.9L1072.9,858.2M1068.5,858.9L1078.4,848.6M1061.7,855.2L1068.5,858.9M1090.7,840.4L1083.7,850.1M1078.4,848.6L1083.7,850.1M1088.8,845.9L1083.7,850.1M1090.7,840.4L1097.1,836.7M1083.7,850.1L1097.1,836.7M1109.9,770.1L1110.1,760.9M1105.5,754.4L1110.1,760.9M1110.1,760.9L1113.8,779.2M1111.0,789.2L1113.8,779.2M1113.8,779.2L1109.9,770.1M1113.8,779.2L1112.9,800.4M1107.5,809.3L1112.9,800.4M1112.9,800.4L1111.0,789.2M1112.9,800.4L1106.7,820.6M1100.1,827.0L1106.7,820.6M1106.7,820.6L1107.5,809.3M1106.7,820.6L1097.1,836.7M1097.1,836.7L1100.1,827.0M1036.1,722.6L1047.7,715.2M1047.7,715.2L1054.4,726.5M1054.4,726.5L1065.9,720.5M1065.9,720.5L1073.7,734.7M1073.7,734.7L1083.3,730.1M1083.3,730.1L1090.2,746.2M1090.2,746.2L1096.8,742.2M1096.8,742.2L1101.6,758.5M1041.5,736.2L1054.4,726.5M1054.4,726.5L1036.1,722.6M1054.4,726.5L1060.7,743.0M1060.7,743.0L1073.7,734.7M1073.7,734.7L1054.4,726.5M1073.7,734.7L1079.2,753.1M1079.2,753.1L1090.2,746.2M1090.2,746.2L1073.7,734.7M1090.2,746.2L1093.5,764.7M1101.6,758.5L1090.2,746.2M1046.7,753.5L1060.7,743.0M1060.7,743.0L1041.5,736.2M1060.7,743.0L1065.0,762.3M1065.0,762.3L1079.2,753.1M1079.2,753.1L1060.7,743.0M1079.2,753.1L1081.3,772.5M1093.5,764.7L1079.2,753.1M1050.6,771.7L1065.0,762.3M1065.0,762.3L1046.7,753.5M1065.0,762.3L1067.0,780.7M1081.3,772.5L1065.0,762.3M1067.0,780.7L1050.6,771.7M972.5,790.5L982.6,776.2M982.6,776.2L987.0,794.1M987.0,794.1L999.1,778.7M999.1,778.7L1006.1,797.7M1006.1,797.7L1018.3,781.9M1018.3,781.9L1026.8,800.6M1026.8,800.6L1037.3,785.1M1037.3,785.1L1045.4,802.4M977.7,809.0L987.0,794.1M987.0,794.1L972.5,790.5M987.0,794.1L994.7,813.8M994.7,813.8L1006.1,797.7M1006.1,797.7L987.0,794.1M1006.1,797.7L1015.2,817.2M1015.2,817.2L1026.8,800.6M1026.8,800.6L1006.1,797.7M1026.8,800.6L1035.5,818.4M1045.4,802.4L1026.8,800.6M986.2,827.3L994.7,813.8M994.7,813.8L977.7,809.0M994.7,813.8L1004.7,831.8M1004.7,831.8L1015.2,817.2M1015.2,817.2L994.7,813.8M1015.2,817.2L1024.8,833.6M1035.5,818.4L1015.2,817.2M996.8,842.3L1004.7,831.8M1004.7,831.8L986.2,827.3M1004.7,831.8L1015.0,845.2M1024.8,833.6L1004.7,831.8M1015.0,845.2L996.8,842.3M968.2,839.9L982.5,853.6M982.5,853.6L979.9,847.9M979.9,847.9L996.1,859.6M996.1,859.6L993.8,852.0M993.8,852.0L1010.2,861.0M1000.9,863.7L996.1,859.6M996.1,859.6L982.5,853.6M996.1,859.6L1014.5,866.9M1010.2,861.0L996.1,859.6M1014.5,866.9L1000.9,863.7M1110.1,760.9L1102.0,743.6" fill="none" stroke="#1e1e24" stroke-width="1.2" opacity="0.88"/>
<circle cx="1031.3" cy="786.5" r="82.2" fill="none" stroke="#3a3a40" stroke-width="3.0" opacity="0.85"/>
<line x1="545" y1="351" x2="766.5" y2="491.5" stroke="#1e1e1e" stroke-width="1.9" stroke-dasharray="4.4 2.0"/>
<line x1="581" y1="642.5" x2="772" y2="642" stroke="#1e1e1e" stroke-width="1.9" stroke-dasharray="4.4 2.0"/>
<line x1="1185.5" y1="345.5" x2="1034.8" y2="678" stroke="#1e1e1e" stroke-width="1.9" stroke-dasharray="4.4 2.0"/>
<line x1="1355" y1="636.5" x2="1107" y2="780" stroke="#1e1e1e" stroke-width="1.9" stroke-dasharray="4.4 2.0"/>
<line x1="1381.5" y1="849" x2="1253.5" y2="798" stroke="#1e1e1e" stroke-width="1.9" stroke-dasharray="4.4 2.0"/>
<circle cx="766.5" cy="491.5" r="4.3" fill="#0c0c0c"/>
<circle cx="772" cy="642" r="4.3" fill="#0c0c0c"/>
<circle cx="1034.8" cy="678" r="4.3" fill="#0c0c0c"/>
<circle cx="1107" cy="780" r="4.3" fill="#0c0c0c"/>
<circle cx="1253.5" cy="798" r="4.3" fill="#0c0c0c"/>
<rect x="222.65" y="291.90" width="320.95" height="119.20" rx="2.5" ry="2.5" fill="#ffffff" stroke="#4a4a4a" stroke-width="2.8"/>
<rect x="178.90" y="552.65" width="400.95" height="181.45" rx="2.5" ry="2.5" fill="#ffffff" stroke="#4a4a4a" stroke-width="2.8"/>
<rect x="181.80" y="818.80" width="423.15" height="171.15" rx="2.5" ry="2.5" fill="#ffffff" stroke="#5b9bd8" stroke-width="2.6"/>
<rect x="1185.40" y="268.65" width="530.20" height="151.20" rx="2.5" ry="2.5" fill="#ffffff" stroke="#4a4a4a" stroke-width="2.8"/>
<rect x="1356.40" y="560.90" width="454.70" height="150.20" rx="2.5" ry="2.5" fill="#ffffff" stroke="#4a4a4a" stroke-width="2.8"/>
<rect x="1382.65" y="774.40" width="428.45" height="151.20" rx="2.5" ry="2.5" fill="#ffffff" stroke="#4a4a4a" stroke-width="2.8"/>
</svg>
<div id="bul"></div>
<div class="t" id="t0" style="left:178.45px;top:61.70px;font-size:43px;line-height:51.6px;font-weight:700;color:#ffffff;transform:scaleX(0.8976);">1. Functions &amp; Features</div>
<div class="t" id="t1" style="left:1568.72px;top:57.76px;font-size:25.5px;line-height:30.6px;font-weight:700;color:#a9c9ea;transform:scaleX(0.9486);">Doosan Robotics</div>
<div class="t" id="t2" style="left:1608.00px;top:86.26px;font-size:25.5px;line-height:30.6px;font-weight:700;color:#a9c9ea;transform:scaleX(0.9771);">Core Training</div>
<div class="t" id="t3" style="left:198.50px;top:146.77px;font-size:35px;line-height:42.0px;font-weight:400;color:#1a1a1a;-webkit-text-stroke:1.45px #101010;transform:scaleX(0.9935);">2) Safety Function : Provide 5 types of safety zone settings</div>
<div class="t" id="t4" style="left:242.00px;top:200.45px;font-size:29px;line-height:34.8px;font-weight:400;color:#161616;-webkit-text-stroke:0.95px #161616;transform:scaleX(0.9976);">Safety zone can be set in the shape of a cuboid, cylinder, polygon prism or sphere</div>
<div class="t" id="t5" style="left:236.00px;top:297.94px;font-size:27px;line-height:32.4px;font-weight:700;color:#111111;transform:scaleX(0.9817);">Space Limit</div>
<div class="t" id="t6" style="left:236.00px;top:340.44px;font-size:27px;line-height:32.4px;font-weight:400;color:#1c1c1c;-webkit-text-stroke:0.75px #1c1c1c;transform:scaleX(1.0064);">Robot can move only</div>
<div class="t" id="t7" style="left:236.00px;top:370.94px;font-size:27px;line-height:32.4px;font-weight:400;color:#1c1c1c;-webkit-text-stroke:0.75px #1c1c1c;transform:scaleX(1.0309);">within this area</div>
<div class="t" id="t8" style="left:193.33px;top:558.69px;font-size:27px;line-height:32.4px;font-weight:700;color:#111111;transform:scaleX(0.9823);">Crushing Prevention Zone</div>
<div class="t" id="t9" style="left:193.33px;top:600.44px;font-size:27px;line-height:32.4px;font-weight:400;color:#1c1c1c;-webkit-text-stroke:0.75px #1c1c1c;transform:scaleX(1.0068);">This area is protected from</div>
<div class="t" id="t10" style="left:193.33px;top:631.69px;font-size:27px;line-height:32.4px;font-weight:400;color:#1c1c1c;-webkit-text-stroke:0.75px #1c1c1c;transform:scaleX(1.0323);">robot operation, and the robot</div>
<div class="t" id="t11" style="left:193.33px;top:662.94px;font-size:27px;line-height:32.4px;font-weight:400;color:#1c1c1c;-webkit-text-stroke:0.75px #1c1c1c;transform:scaleX(1.0280);">is not allowed to penetrate</div>
<div class="t" id="t12" style="left:193.33px;top:693.44px;font-size:27px;line-height:32.4px;font-weight:400;color:#1c1c1c;-webkit-text-stroke:0.75px #1c1c1c;transform:scaleX(1.0160);">into this area</div>
<div class="t" id="t13" style="left:196.07px;top:825.69px;font-size:27px;line-height:32.4px;font-weight:700;color:#1f60a6;transform:scaleX(0.9769);">Custom Zone</div>
<div class="t" id="t14" style="left:196.07px;top:857.44px;font-size:27px;line-height:32.4px;font-weight:400;color:#2f72b8;-webkit-text-stroke:0.8px #2f72b8;transform:scaleX(1.0055);">Various safety limits can be</div>
<div class="t" id="t15" style="left:196.07px;top:888.44px;font-size:27px;line-height:32.4px;font-weight:400;color:#2f72b8;-webkit-text-stroke:0.8px #2f72b8;transform:scaleX(1.0283);">overridden, multiple safety zone</div>
<div class="t" id="t16" style="left:196.07px;top:919.19px;font-size:27px;line-height:32.4px;font-weight:400;color:#2f72b8;-webkit-text-stroke:0.8px #2f72b8;transform:scaleX(1.0289);">setting depending on the</div>
<div class="t" id="t17" style="left:196.07px;top:950.44px;font-size:27px;line-height:32.4px;font-weight:400;color:#2f72b8;-webkit-text-stroke:0.8px #2f72b8;transform:scaleX(1.0069);">application as per user&rsquo;s need</div>
<div class="t" id="t18" style="left:1201.00px;top:274.24px;font-size:27px;line-height:32.4px;font-weight:700;color:#111111;transform:scaleX(0.9774);">Collision Sensitivity Reduction Zone</div>
<div class="t" id="t19" style="left:1201.00px;top:316.44px;font-size:27px;line-height:32.4px;font-weight:400;color:#1c1c1c;-webkit-text-stroke:0.75px #1c1c1c;transform:scaleX(1.0092);">When entering into this zone, the</div>
<div class="t" id="t20" style="left:1201.00px;top:347.69px;font-size:27px;line-height:32.4px;font-weight:400;color:#1c1c1c;-webkit-text-stroke:0.75px #1c1c1c;transform:scaleX(1.0275);">collision sensitivity is adjusted to local</div>
<div class="t" id="t21" style="left:1201.00px;top:377.94px;font-size:27px;line-height:32.4px;font-weight:400;color:#1c1c1c;-webkit-text-stroke:0.75px #1c1c1c;transform:scaleX(1.0197);">value which is different from global value</div>
<div class="t" id="t22" style="left:1370.75px;top:566.19px;font-size:27px;line-height:32.4px;font-weight:700;color:#111111;transform:scaleX(0.9984);">Tool Orientation Limit Zone</div>
<div class="t" id="t23" style="left:1370.75px;top:608.44px;font-size:27px;line-height:32.4px;font-weight:400;color:#1c1c1c;-webkit-text-stroke:0.75px #1c1c1c;transform:scaleX(1.0374);">Tool Orientation is limited in this</div>
<div class="t" id="t24" style="left:1370.75px;top:639.19px;font-size:27px;line-height:32.4px;font-weight:400;color:#1c1c1c;-webkit-text-stroke:0.75px #1c1c1c;transform:scaleX(1.0114);">area to protect person from sharp</div>
<div class="t" id="t25" style="left:1370.75px;top:670.44px;font-size:27px;line-height:32.4px;font-weight:400;color:#1c1c1c;-webkit-text-stroke:0.75px #1c1c1c;transform:scaleX(1.0206);">edge tool</div>
<div class="t" id="t26" style="left:1396.50px;top:781.19px;font-size:27px;line-height:32.4px;font-weight:700;color:#111111;transform:scaleX(0.9931);">Collaborative Zone</div>
<div class="t" id="t27" style="left:1396.50px;top:823.44px;font-size:27px;line-height:32.4px;font-weight:400;color:#1c1c1c;-webkit-text-stroke:0.75px #1c1c1c;transform:scaleX(1.0014);">Moving speed of robot is reduced</div>
<div class="t" id="t28" style="left:1396.50px;top:854.19px;font-size:27px;line-height:32.4px;font-weight:400;color:#1c1c1c;-webkit-text-stroke:0.75px #1c1c1c;transform:scaleX(1.0171);">as robot and human work</div>
<div class="t" id="t29" style="left:1396.50px;top:884.94px;font-size:27px;line-height:32.4px;font-weight:400;color:#1c1c1c;-webkit-text-stroke:0.75px #1c1c1c;transform:scaleX(1.0081);">together in this area</div>
<div class="t" id="t30" style="left:1839.75px;top:1036.94px;font-size:27px;line-height:32.4px;font-weight:400;color:#3c3c3c;-webkit-text-stroke:0.5px #3c3c3c;transform:scaleX(1.0215);">3</div>
</body>
</html>
